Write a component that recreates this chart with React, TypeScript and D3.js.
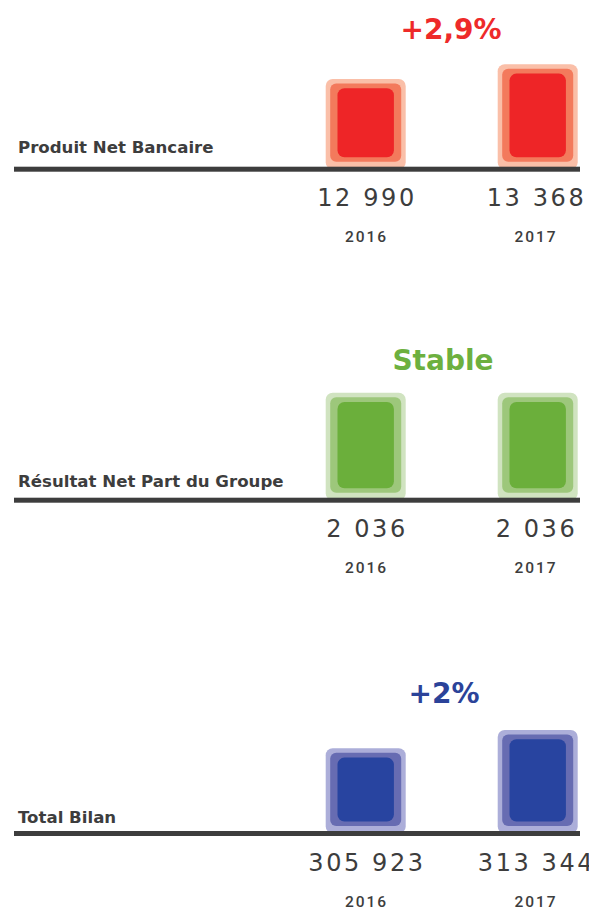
import React from "react";
import * as d3 from "d3";

// ---- data ----
const metrics = ["Produit Net Bancaire", "Résultat Net Part du Groupe", "Total Bilan"];
const years = ["2016", "2017"];
const values2016 = [12990, 2036, 305923];
const values2017 = [13368, 2036, 313344];
const changeLabels = ["+2,9%", "Stable", "+2%"];
const scaleFloors = [10735, 0, 272390];

// ---- styling / layout ----
const W = 589;
const H = 908;
const palettes = [
  { outer: "#FABFA8", middle: "#F37A5C", inner: "#EE2527", text: "#EE2A2A" },
  { outer: "#D0E3C0", middle: "#9DC77B", inner: "#6BAF3B", text: "#6DB03F" },
  { outer: "#ACAED9", middle: "#676CB2", inner: "#2844A0", text: "#2B4399" },
];
const lineTops = [166.7, 497.7, 831];
const labelOffsets = [-13.4, -10.4, -7.7];
const changeX = [451, 443, 444];
const barMaxH = [102.4, 105, 101];
const textGray = "#3d3d3d";

const fr = d3.formatLocale({ decimal: ",", thousands: " ", grouping: [3], currency: ["", " €"] });
const fmt = fr.format(",");

const xBar = d3.scalePoint<string>().domain(years).range([365.7, 537.7]);
const xText = d3.scalePoint<string>().domain(years).range([365.5, 535]);

export default function App() {
  return (
    <svg
      width={W}
      height={H}
      viewBox={`0 0 ${W} ${H}`}
      style={{ position: "absolute", left: 0, top: 0, display: "block", background: "#fff" }}
    >
      {metrics.map((m, i) => {
        const vals = [values2016[i], values2017[i]];
        const y = d3
          .scaleLinear()
          .domain([scaleFloors[i], d3.max(vals) as number])
          .range([0, barMaxH[i]]);
        const lt = lineTops[i];
        const pal = palettes[i];
        return (
          <g key={m}>
            <text
              x={changeX[i]}
              y={lt - 127.7}
              textAnchor="middle"
              fontFamily="'DejaVu Sans', sans-serif"
              fontWeight={700}
              fontSize={28}
              fill={pal.text}
            >
              {changeLabels[i]}
            </text>
            {years.map((yr, j) => {
              const cx = xBar(yr) as number;
              const h = y(vals[j]);
              const top = lt - h;
              return (
                <g key={yr}>
                  <rect x={cx - 40} y={top} width={80} height={h + 2.5} rx={7} fill={pal.outer} />
                  <rect x={cx - 35.5} y={top + 4.5} width={71} height={h - 9.5} rx={6} fill={pal.middle} />
                  <rect x={cx - 28.2} y={top + 9.3} width={56.4} height={h - 18.7} rx={7} fill={pal.inner} />
                </g>
              );
            })}
            <rect x={14} y={lt} width={566} height={5} fill={textGray} />
            <text
              x={18}
              y={lt + labelOffsets[i]}
              fontFamily="'DejaVu Sans', sans-serif"
              fontWeight={700}
              fontSize={16.6}
              fill={textGray}
            >
              {m}
            </text>
            {years.map((yr, j) => {
              const tx = xText(yr) as number;
              return (
                <g key={"t" + yr}>
                  <text
                    x={tx + 1.5}
                    y={lt + 39.5}
                    textAnchor="middle"
                    fontFamily="'DejaVu Sans', sans-serif"
                    fontSize={24}
                    letterSpacing={2.6}
                    fill={textGray}
                  >
                    {fmt(vals[j])}
                  </text>
                  <text
                    x={tx + 1}
                    y={lt + 75.6}
                    textAnchor="middle"
                    fontFamily="Roboto, 'DejaVu Sans', sans-serif"
                    fontWeight={500}
                    fontSize={15.5}
                    letterSpacing={2}
                    fill={textGray}
                  >
                    {yr}
                  </text>
                </g>
              );
            })}
          </g>
        );
      })}
    </svg>
  );
}
